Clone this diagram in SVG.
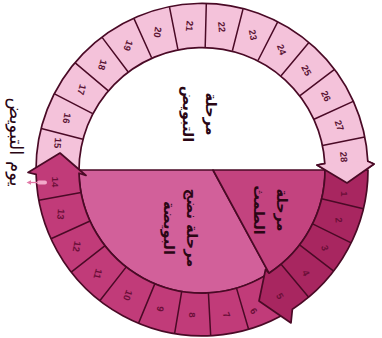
<svg xmlns="http://www.w3.org/2000/svg" width="382" height="338" viewBox="0 0 382 338">
<style>
.ln{stroke:#4a0a26;stroke-width:1.7;stroke-linejoin:round;stroke-linecap:round}
.dv{stroke:#4a0a26;stroke-width:1.5;fill:none}
.top{fill:#f4c2da}
.mid{fill:#c13b79}
.dark{fill:#a82660}
.egg{fill:#d2609a}
.men{fill:#c3437f}
.num{font-family:"Liberation Sans",Arial,sans-serif;font-size:9.5px;font-weight:bold;text-anchor:middle;dominant-baseline:central}
.nt{fill:#5a1434}
.nb{fill:#6a0f38}
.ar{font-family:"DejaVu Sans",sans-serif;font-size:14.5px;font-weight:bold;fill:#2a0614;text-anchor:middle}
</style>
<rect width="382" height="338" fill="#ffffff"/>

<g id="sector-egg-maturation">
<path class="egg ln" d="M79,170 L213,170 L269,273.2 A123 123 0 0 1 79,170 Z"/>
<g class="ar" transform="translate(180,228) rotate(90)">
<text x="0" y="-7">مرحلة نضج</text>
<text x="0" y="16">البويضة</text>
</g>
</g>

<g id="sector-menstruation">
<path class="men ln" d="M213,170 L325,170 A123 123 0 0 1 269,273.2 Z"/>
<g class="ar" transform="translate(270,210) rotate(90)">
<text x="0" y="-7">مرحلة</text>
<text x="0" y="16">الطمث</text>
</g>
</g>

<g id="label-ovulation-phase" class="ar" transform="translate(199,114) rotate(90)">
<text x="0" y="-7">مرحلة</text>
<text x="0" y="16">التبويض</text>
</g>

<g id="ring-days-15-28">
<path class="top ln" d="M36,170 A166 166 0 0 1 367.8,161.3 L374,164 L347,183 L317,165 L324.8,163.6 A123 123 0 0 0 79,170 Z"/>
<path class="dv" d="M82.9,139.2L41.3,128.4M92.7,113.6L54.5,93.9M108.1,90.6L75.2,62.9M128,71.8L102.1,37.4M151.6,57.8L134,18.6M177.9,49.4L169.5,7.2M205.2,47L206.3,4.1M232.4,50.8L243,9.1M258,60.5L277.6,22.2M281.1,75.8L308.7,42.8M300,95.6L334.2,69.6M314,119.2L353.2,101.4M322.5,145.5L364.7,136.9"/>
<g class="num nt">
<text transform="translate(58,143) rotate(95)">15</text>
<text transform="translate(67,118.4) rotate(100)">16</text>
<text transform="translate(81.9,89.7) rotate(105)">17</text>
<text transform="translate(102.7,65) rotate(105)">18</text>
<text transform="translate(128.4,45.6) rotate(110)">19</text>
<text transform="translate(157.9,32.4) rotate(100)">20</text>
<text transform="translate(189.7,26) rotate(95)">21</text>
<text transform="translate(221.9,26.9) rotate(85)">22</text>
<text transform="translate(253.1,34.8) rotate(80)">23</text>
<text transform="translate(281.9,49.6) rotate(70)">24</text>
<text transform="translate(306.6,70.3) rotate(62)">25</text>
<text transform="translate(326.1,96) rotate(65)">26</text>
<text transform="translate(339.5,125.5) rotate(72)">27</text>
<text transform="translate(344,157) rotate(85)">28</text>
</g>
</g>

<g id="ring-days-6-14">
<path class="mid ln" d="M288.7,311.5 A166 166 0 0 1 36.1,174.3 L28,172.5 L60,153 L86,175.5 L79,173.2 A123 123 0 0 0 266.3,274.9 Z"/>
<path class="dv" d="M236.5,288.1L248.6,329.3M208.4,292.8L210.7,335.8M181.7,291.3L174.6,333.7M154.9,283.6L138.5,323.4M126.3,266.9L99.8,300.8M105.1,245.7L71.2,272.2M90.1,221L51,238.8M81.1,192.4L38.8,200.3"/>
<g class="num nb">
<text transform="translate(254,311) rotate(55)">6</text>
<text transform="translate(226.6,314.9) rotate(70)">7</text>
<text transform="translate(192,315) rotate(90)">8</text>
<text transform="translate(160.5,309) rotate(100)">9</text>
<text transform="translate(128,295.5) rotate(110)">10</text>
<text transform="translate(98.1,273.9) rotate(105)">11</text>
<text transform="translate(77,246.5) rotate(100)">12</text>
<text transform="translate(61,214.2) rotate(95)">13</text>
<text transform="translate(55,182) rotate(90)">14</text>
</g>
</g>

<g id="ring-days-1-5">
<path class="dark ln" d="M368,170 A166 166 0 0 1 292.4,309.2 L291,323 L259,301 L265.5,269.5 L269,273.2 A123 123 0 0 0 325,170 Z"/>
<path class="dv" d="M321.6,198.7L363.4,208.8M312.6,223.9L351.2,242.8M299.6,244.9L333.7,271.1M281.1,264.2L308.7,297.2"/>
<g class="num nb">
<text transform="translate(344,194) rotate(90)">1</text>
<text transform="translate(339,220) rotate(85)">2</text>
<text transform="translate(325,248) rotate(75)">3</text>
<text transform="translate(306,273) rotate(65)">4</text>
<text transform="translate(280,296) rotate(60)">5</text>
</g>
</g>

<g id="arrowhead-day-28">
<polygon class="top" points="367.8,161.3 374,164 347,183 317,165 324.8,163.6"/>
<polyline class="ln" fill="none" points="367.8,161.3 374,164 347,183 317,165 324.8,163.6"/>
</g>

<g id="label-ovulation-day">
<text class="ar" style="font-size:18px;font-weight:normal" transform="translate(13,142) rotate(90)" x="0" y="3">يوم التبويض</text>
</g>

<g id="connectors">
<rect x="37" y="180.5" width="10" height="4" rx="2" fill="#f2a9ca"/>
<line x1="38" y1="182.5" x2="30" y2="182.5" stroke="#e27aa8" stroke-width="1.3"/>
<polygon points="26.5,182.5 31,180.3 31,184.7" fill="#e27aa8"/>
</g>
</svg>
